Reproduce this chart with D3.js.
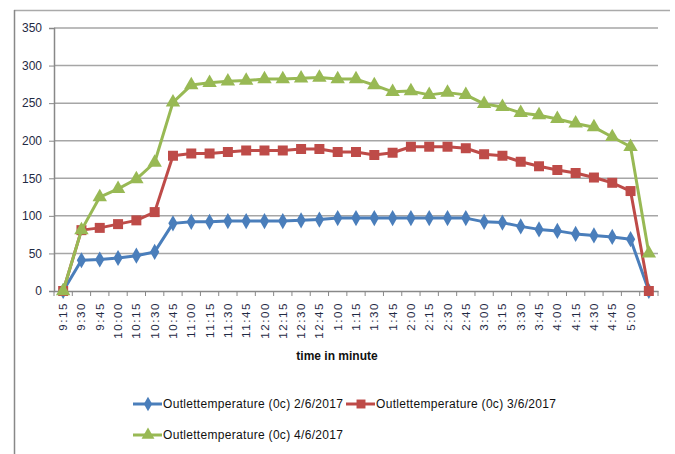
<!DOCTYPE html>
<html>
<head>
<meta charset="utf-8">
<script src="https://cdn.jsdelivr.net/npm/d3@7"></script>
<style>
  body { margin: 0; background: #fff; }
  svg { display: block; }
  text { font-family: "Liberation Sans", Arial, sans-serif; }
</style>
</head>
<body>
<svg id="chart"></svg>
<script>
// time slots (last one has no label)
const times = ["9:15","9:30","9:45","10:00","10:15","10:30","10:45","11:00","11:15","11:30","11:45",
  "12:00","12:15","12:30","12:45","1:00","1:15","1:30","1:45","2:00","2:15","2:30","2:45",
  "3:00","3:15","3:30","3:45","4:00","4:15","4:30","4:45","5:00",""]

const day1 = [0,41,42,44,47,52,90,92,92,93,93,93,93,94,95,97,97,97,97,97,97,97,97,
  92,91,86,82,80,76,74,72,69,0]
const day2 = [0,81,84,89,94,105,180,183,183,185,187,187,187,189,189,185,185,181,184,192,192,192,190,
  182,180,172,166,161,157,151,144,133,0]
const day3 = [0,81,125,136,149,171,251,274,277,279,280,282,282,283,284,282,282,274,265,266,261,264,261,
  249,245,237,234,229,223,218,205,192,50]

const yTicks = [0,50,100,150,200,250,300,350]
const seriesNames = ["Outlettemperature (0c) 2/6/2017","Outlettemperature (0c) 3/6/2017","Outlettemperature (0c) 4/6/2017"]
const colors = ["#4a7ebb","#be4b48","#98b954"]
const shapes = [d3.symbolDiamond, d3.symbolSquare, d3.symbolTriangle]
const symSize = [75, 100, 90]

const W = 675, H = 454
const plot = {left: 54, right: 658, top: 28, bottom: 291}

const svg = d3.select("#chart").attr("width", W).attr("height", H)

// outer frame (only top and left edge show)
svg.append("line").attr("x1", 14).attr("x2", 670).attr("y1", 10.5).attr("y2", 10.5)
  .attr("stroke", "#aaa").attr("stroke-width", 1.5)
svg.append("line").attr("x1", 14.5).attr("x2", 14.5).attr("y1", 10).attr("y2", H)
  .attr("stroke", "#888").attr("stroke-width", 1.5)

const x = d3.scaleBand().domain(d3.range(times.length)).range([plot.left, plot.right])
const y = d3.scaleLinear().domain([0, 350]).range([plot.bottom, plot.top])
const cx = i => x(i) + x.bandwidth() / 2

// gridlines
svg.append("g").selectAll("line").data(yTicks.slice(1)).join("line")
  .attr("x1", plot.left).attr("x2", plot.right)
  .attr("y1", d => y(d)).attr("y2", d => y(d))
  .attr("stroke", "#a6a6a6").attr("stroke-width", 1.5)

// y axis
const yAxis = svg.append("g").attr("transform", `translate(${plot.left},0)`)
  .call(d3.axisLeft(y).tickValues(yTicks).tickSize(5).tickPadding(7))
yAxis.select(".domain").attr("stroke", "#888").attr("stroke-width", 1.5)
yAxis.selectAll(".tick line").attr("stroke", "#888")
yAxis.selectAll("text").attr("font-size", 12).attr("fill", "#1f2a44")

// x axis
const xAxis = svg.append("g").attr("transform", `translate(0,${plot.bottom})`)
  .call(d3.axisBottom(x).tickFormat(i => times[i]).tickSize(0))
xAxis.select(".domain").attr("stroke", "#888").attr("stroke-width", 1.5)
xAxis.selectAll(".tick text")
  .attr("transform", "rotate(-90)")
  .attr("x", -11).attr("y", 0).attr("dy", "0.35em")
  .attr("text-anchor", "end")
  .attr("font-size", 11.5).attr("fill", "#1f2a44")
  .attr("letter-spacing", 1.6)
// tick marks on band edges
svg.append("g").selectAll("line").data(d3.range(times.length + 1)).join("line")
  .attr("x1", i => plot.left + i * x.step()).attr("x2", i => plot.left + i * x.step())
  .attr("y1", plot.bottom).attr("y2", plot.bottom + 5)
  .attr("stroke", "#888")

svg.append("text").attr("x", 337).attr("y", 360).attr("text-anchor", "middle")
  .attr("font-size", 12).attr("font-weight", "bold").attr("fill", "#111")
  .text("time in minute")

// series
const line = d3.line().x((d, i) => cx(i)).y(d => y(d))
const allSeries = [day1, day2, day3]
allSeries.forEach((vals, k) => {
  const g = svg.append("g")
  g.append("path").datum(vals).attr("d", line)
    .attr("fill", "none").attr("stroke", colors[k]).attr("stroke-width", 3)
    .attr("stroke-linejoin", "round")
  g.selectAll("path.pt").data(vals).join("path").attr("class", "pt")
    .attr("transform", (d, i) => `translate(${cx(i)},${y(d)})`)
    .attr("d", d3.symbol(shapes[k], symSize[k]))
    .attr("fill", colors[k])
})

// legend
const legendPos = [[133, 404], [346, 404], [133, 435]]
seriesNames.forEach((name, k) => {
  const [lx, ly] = legendPos[k]
  const g = svg.append("g").attr("transform", `translate(${lx},${ly})`)
  g.append("line").attr("x1", 0).attr("x2", 29).attr("stroke", colors[k]).attr("stroke-width", 3)
  g.append("path").attr("transform", "translate(15,0)").attr("d", d3.symbol(shapes[k], symSize[k] * 0.8)).attr("fill", colors[k])
  g.append("text").attr("x", 30).attr("dy", "0.35em").attr("font-size", 12).attr("fill", "#111")
    .attr("textLength", 180).text(name)
})
</script>
</body>
</html>
